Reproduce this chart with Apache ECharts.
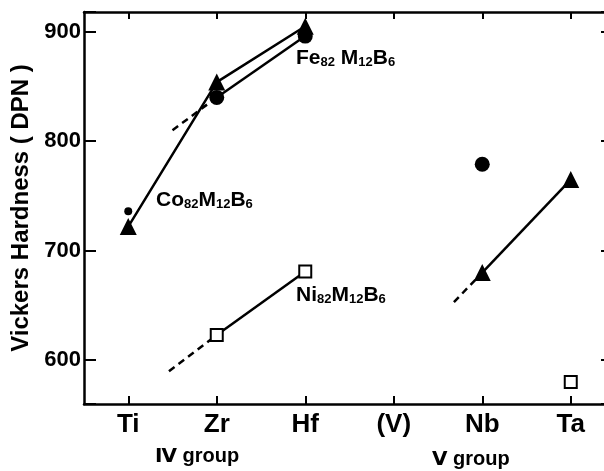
<!DOCTYPE html>
<html>
<head>
<meta charset="utf-8">
<script src="https://cdn.jsdelivr.net/npm/echarts@6/dist/echarts.min.js"></script>
<style>html,body{margin:0;padding:0;background:#fff}#c{width:604px;height:471px}</style>
</head>
<body>
<div id="c"></div>
<script>
// ---- data ----
const categories = ['Ti', 'Zr', 'Hf', '(V)', 'Nb', 'Ta'];
const yTicks = [600, 700, 800, 900];
// Co82M12B6 (triangles)
const coGroupIV = [722, 854, 905];      // Ti, Zr, Hf
const coGroupV = [680, 765];            // Nb, Ta
const coDashStart = [3.68, 653];        // extrapolation end, left of Nb
// Fe82M12B6 (filled circles)
const feGroupIV = [840, 896];           // Zr, Hf
const feTi = 736;                       // small dot at Ti
const feNb = 779;                       // Nb
const feDashStart = [0.5, 810];         // extrapolation end, left of Zr
// Ni82M12B6 (open squares)
const niGroupIV = [623, 681];           // Zr, Hf
const niTa = 580;                       // Ta
const niDashStart = [0.46, 590];        // extrapolation end, left of Zr

const idx = c => categories.indexOf(c);
const pts = (cats, vals) => cats.map((c, i) => [idx(c), vals[i]]);

const FONT = 'Liberation Sans';
const black = '#000';
const lineW = 2.5;

const chart = echarts.init(document.getElementById('c'), null, {renderer: 'canvas'});

function sub(base, s1, base2, s2, base3, s3) {
  return `{b|${base}}{s|${s1}}{b|${base2}}{s|${s2}}{b|${base3}}{s|${s3}}`;
}
const rich = {
  b: {fontFamily: FONT, fontWeight: 'bold', fontSize: 21, color: black, verticalAlign: 'bottom', lineHeight: 22},
  s: {fontFamily: FONT, fontWeight: 'bold', fontSize: 13, color: black, verticalAlign: 'bottom', lineHeight: 18}
};

const lineBase = {
  type: 'line', xAxisIndex: 1, yAxisIndex: 0,
  lineStyle: {color: black, width: lineW},
  itemStyle: {color: black, opacity: 1},
  animation: false, silent: true, z: 3
};

chart.setOption({
  animation: false,
  backgroundColor: '#fff',
  grid: {left: 84, top: 12, width: 531, height: 392, containLabel: false, outerBoundsMode: 'none'},
  xAxis: [
    {
      type: 'category', data: categories, position: 'bottom', boundaryGap: true,
      axisLine: {show: true, onZero: false, lineStyle: {color: black, width: lineW}},
      axisTick: {show: true, inside: true, alignWithLabel: true, length: 8, lineStyle: {color: black, width: 2}},
      axisLabel: {color: black, fontFamily: FONT, fontWeight: 'bold', fontSize: 26, margin: 8},
      splitLine: {show: false}
    },
    {
      type: 'value', min: -0.5, max: 5.5, show: false
    },
    {
      type: 'category', data: categories, position: 'top', boundaryGap: true,
      axisLine: {show: true, onZero: false, lineStyle: {color: black, width: lineW}},
      axisTick: {show: true, inside: true, alignWithLabel: true, length: 7, lineStyle: {color: black, width: 2}},
      axisLabel: {show: false},
      splitLine: {show: false}
    }
  ],
  yAxis: [
    {
      type: 'value', min: 560, max: 918, splitNumber: 4, position: 'left',
      name: 'Vickers Hardness ( DPN )', nameLocation: 'middle', nameGap: 48, nameRotate: 90,
      nameTextStyle: {color: black, fontFamily: FONT, fontWeight: 'bold', fontSize: 24},
      axisLine: {show: true, onZero: false, lineStyle: {color: black, width: lineW}},
      axisTick: {show: true, inside: true, length: 12, lineStyle: {color: black, width: 2}},
      axisLabel: {color: black, fontFamily: FONT, fontWeight: 'bold', fontSize: 22, margin: 3,
        formatter: v => (yTicks.indexOf(v) >= 0 ? String(v) : '')},
      splitLine: {show: false}
    },
    {
      type: 'value', min: 560, max: 918, splitNumber: 4, position: 'right',
      axisLine: {show: true, onZero: false, lineStyle: {color: black, width: lineW}},
      axisTick: {show: true, inside: true, length: 14, lineStyle: {color: black, width: 2}},
      axisLabel: {show: false},
      splitLine: {show: false}
    }
  ],
  series: [
    // Co triangles, group IV
    Object.assign({}, lineBase, {name: 'Co IV', data: pts(['Ti', 'Zr', 'Hf'], coGroupIV),
      symbol: 'triangle', symbolSize: 17, showAllSymbol: true}),
    // Co triangles, group V
    Object.assign({}, lineBase, {name: 'Co V', data: pts(['Nb', 'Ta'], coGroupV),
      symbol: 'triangle', symbolSize: 17}),
    Object.assign({}, lineBase, {name: 'Co dash', data: [coDashStart, [idx('Nb'), coGroupV[0]]],
      symbol: 'none', lineStyle: {color: black, width: lineW, type: [7, 5]}, z: 2}),
    // Fe circles
    Object.assign({}, lineBase, {name: 'Fe IV', data: pts(['Zr', 'Hf'], feGroupIV),
      symbol: 'circle', symbolSize: 15}),
    Object.assign({}, lineBase, {name: 'Fe dash', data: [feDashStart, [idx('Zr'), feGroupIV[0]]],
      symbol: 'none', lineStyle: {color: black, width: lineW, type: [7, 5]}, z: 2}),
    {type: 'scatter', xAxisIndex: 1, name: 'Fe Nb', data: [[idx('Nb'), feNb]], symbol: 'circle', symbolSize: 15,
      itemStyle: {color: black, opacity: 1}, silent: true, animation: false, z: 4},
    {type: 'scatter', xAxisIndex: 1, name: 'Fe Ti', data: [[idx('Ti'), feTi]], symbol: 'circle', symbolSize: 8,
      itemStyle: {color: black, opacity: 1}, silent: true, animation: false, z: 4},
    // Ni squares
    Object.assign({}, lineBase, {name: 'Ni IV', data: pts(['Zr', 'Hf'], niGroupIV),
      symbol: 'rect', symbolSize: 12, itemStyle: {color: '#fff', borderColor: black, borderWidth: 2, opacity: 1}}),
    Object.assign({}, lineBase, {name: 'Ni dash', data: [niDashStart, [idx('Zr'), niGroupIV[0]]],
      symbol: 'none', lineStyle: {color: black, width: lineW, type: [7, 5]}, z: 2}),
    {type: 'scatter', xAxisIndex: 1, name: 'Ni Ta', data: [[idx('Ta'), niTa]], symbol: 'rect', symbolSize: 12,
      itemStyle: {color: '#fff', borderColor: black, borderWidth: 2, opacity: 1}, silent: true, animation: false, z: 4}
  ],
  graphic: [
    {type: 'text', left: 296, top: 48, z: 10, style: {text: sub('Fe', '82', ' M', '12', 'B', '6'), rich: rich}},
    {type: 'text', left: 156, top: 190, z: 10, style: {text: sub('Co', '82', 'M', '12', 'B', '6'), rich: rich}},
    {type: 'text', left: 296, top: 285, z: 10, style: {text: sub('Ni', '82', 'M', '12', 'B', '6'), rich: rich}},
    {type: 'text', left: 155, top: 446, z: 10, style: {text: 'Ⅳ group', fill: black,
      font: 'bold 20px "Liberation Sans", "DejaVu Sans"'}},
    {type: 'text', left: 432, top: 449, z: 10, style: {text: 'Ⅴ group', fill: black,
      font: 'bold 20px "Liberation Sans", "DejaVu Sans"'}}
  ]
});
</script>
</body>
</html>
